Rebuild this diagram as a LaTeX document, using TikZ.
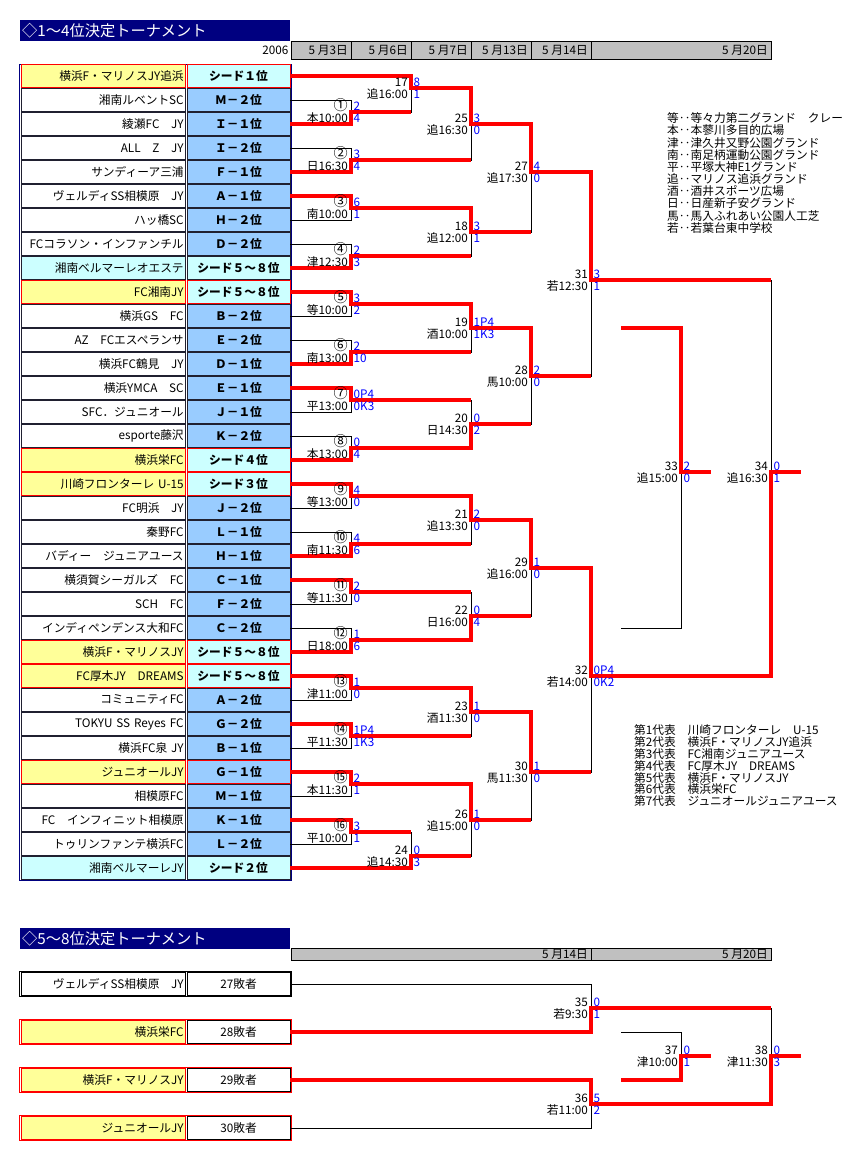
\documentclass[tikz,border=0pt]{standalone}
\usepackage{fontspec}
\setmainfont{Noto Sans CJK JP}
\usepackage{xcolor}
\usepackage{tikz}

\definecolor{navy}{HTML}{000080}
\definecolor{hdrgrey}{HTML}{C0C0C0}
\definecolor{cellyellow}{HTML}{FFFF99}
\definecolor{cellcyan}{HTML}{CCFFFF}
\definecolor{cellblue}{HTML}{99CCFF}
\definecolor{cellline}{HTML}{202030}
\definecolor{scoreblue}{HTML}{0000FF}

\newcommand{\circnum}[1]{{\fontsize{12}{12}\selectfont #1}}

\tikzset{
  namecell/.style={text width=4.82cm, align=right, inner xsep=0.06cm, inner ysep=0pt,
    minimum height=0.675cm, line width=0.7pt},
  rankcell/.style={minimum width=3.09cm, minimum height=0.675cm, inner sep=0pt,
    line width=0.7pt, font=\fontsize{10}{12}\selectfont\bfseries},
  nm grp/.style={namecell, fill=white, draw=cellline},
  nm seed/.style={namecell, fill=cellyellow, draw=red},
  nm yel/.style={namecell, fill=cellyellow, draw=red},
  nm cyn/.style={namecell, fill=cellcyan, draw=cellline},
  rk grp/.style={rankcell, fill=cellblue, draw=cellline},
  rk seed/.style={rankcell, fill=cellcyan, draw=red},
  rk yel/.style={rankcell, fill=cellblue, draw=red},
  rk cyn/.style={rankcell, fill=cellcyan, draw=cellline},
  lnm plain/.style={namecell, fill=white, draw=black},
  lnm red/.style={namecell, fill=cellyellow, draw=red},
  lval/.style={rankcell, font=\fontsize{10}{12}\selectfont, fill=white, draw=black},
  frame plain/.style={draw=black, line width=0.7pt},
  frame red/.style={draw=red, line width=0.7pt},
}

\begin{document}
\begin{tikzpicture}[x=0.03cm, y=-0.03cm,
    every node/.style={font=\fontsize{10}{12}\selectfont},
    titletext/.style={anchor=west, text=white, inner sep=0pt, font=\fontsize{13}{14}\selectfont},
    datebox/.style={draw=black, fill=hdrgrey, line width=0.7pt},
    tableframe/.style={draw=navy, line width=0.8pt},
    loss/.style={draw=black, line width=0.8pt},
    win/.style={draw=red, line width=3.4pt},
    numlbl/.style={anchor=base east, inner sep=0pt},
    scorelbl/.style={anchor=base west, inner sep=0pt, text=scoreblue},
    legend/.style={anchor=north west, align=left, inner sep=0pt}]
    % Canvas
    \useasboundingbox (0,0) rectangle (859,1161);
    \fill[white] (0,0) rectangle (859,1161);

    % Title and dates (1-4)
    \fill[navy] (20,20) rectangle (290,40.7);
    \node[titletext] (title1) at (22,30.5) {◇1～4位決定トーナメント};
    \node[anchor=east, inner sep=0pt] (year) at (288.5,50.2) {2006};
    \foreach \a/\b/\d [count=\k] in {291/351/5 月3日, 351/411/5 月6日, 411/471/5 月7日,
        471/531/5 月13日, 531/591/5 月14日, 591/771/5 月20日} {
      \draw[datebox] (\a,41) rectangle (\b,59.3);
      \node[anchor=east, inner sep=0pt] (date\k) at (\b-3,50.2) {\d};
    }

    % Team table
    \draw[tableframe] (19.5,64.3) rectangle (291.5,880.5);
    \foreach \i/\team/\rank/\kind in {
        1/横浜F・マリノスJY追浜/シード１位/seed, 2/湘南ルベントSC/Ｍ－２位/grp,
        3/綾瀬FC　JY/Ｉ－１位/grp, 4/ALL　Z　JY/Ｉ－２位/grp,
        5/サンディーア三浦/Ｆ－１位/grp, 6/ヴェルディSS相模原　JY/Ａ－１位/grp,
        7/ハッ橋SC/Ｈ－２位/grp, 8/FCコラソン・インファンチル/Ｄ－２位/grp,
        9/{湘南ベルマーレオエステ\hspace*{1em}}/シード５～８位/cyn, 10/FC湘南JY/シード５～８位/seed,
        11/横浜GS　FC/Ｂ－２位/grp, 12/AZ　FCエスペランサ/Ｅ－２位/grp,
        13/横浜FC鶴見　JY/Ｄ－１位/grp, 14/横浜YMCA　SC/Ｅ－１位/grp,
        15/SFC．ジュニオール/Ｊ－１位/grp, 16/esporte藤沢/Ｋ－２位/grp,
        17/横浜栄FC/シード４位/seed, 18/{川崎フロンターレ U-15\hspace*{1em}}/シード３位/seed,
        19/FC明浜　JY/Ｊ－２位/grp, 20/秦野FC/Ｌ－１位/grp,
        21/バディー　ジュニアユース/Ｈ－１位/grp, 22/横須賀シーガルズ　FC/Ｃ－１位/grp,
        23/SCH　FC/Ｆ－２位/grp, 24/インディペンデンス大和FC/Ｃ－２位/grp,
        25/横浜F・マリノスJY/シード５～８位/seed, 26/FC厚木JY　DREAMS/シード５～８位/seed,
        27/コミュニティFC/Ａ－２位/grp, 28/TOKYU SS Reyes FC/Ｇ－２位/grp,
        29/横浜FC泉 JY/Ｂ－１位/grp, 30/ジュニオールJY/Ｇ－１位/yel,
        31/相模原FC/Ｍ－１位/grp, 32/FC　インフィニット相模原/Ｋ－１位/grp,
        33/トゥリンファンテ横浜FC/Ｌ－２位/grp, 34/{湘南ベルマーレJY\hspace*{1em}}/シード２位/cyn} {
      \node[nm \kind] (n\i) at (103.35,{76+24*(\i-1)}) {\team};
      \node[rk \kind] (r\i) at (238.5,{76+24*(\i-1)}) {\rank};
    }

    % Match points
    \foreach \m/\x/\y in {m1/351/112, m2/351/160, m3/351/208, m4/351/256, m5/351/304,
        m6/351/352, m7/351/400, m8/351/448, m9/351/496, m10/351/544, m11/351/592,
        m12/351/640, m13/351/688, m14/351/736, m15/351/784, m16/351/832,
        m17/411/88, m24/411/856, m25/471/124, m18/471/232, m19/471/328, m20/471/424,
        m21/471/520, m22/471/616, m23/471/712, m26/471/820, m27/531/172, m28/531/376,
        m29/531/568, m30/531/772, m31/591/280, m32/591/676, m33/681/472, m34/771/472,
        m35/591/1008, m36/591/1104, m37/681/1056, m38/771/1056}
      \coordinate (\m) at (\x,\y);
    \coordinate (q1) at (621,328);
    \coordinate (q2) at (621,628);
    \coordinate (q3) at (621,1032);
    \coordinate (q4) at (621,1080);

    % Title and dates (5-8)
    \fill[navy] (20,928.3) rectangle (290,949);
    \node[titletext] (title2) at (22,938.6) {◇5～8位決定トーナメント};
    \draw[datebox] (291,948.5) rectangle (591,960);
    \draw[datebox] (591,948.5) rectangle (771,960);
    \node[anchor=east, inner sep=0pt] (date7) at (588,954.5) {5 月14日};
    \node[anchor=east, inner sep=0pt] (date8) at (768,954.5) {5 月20日};

    % Placing table
    \foreach \j/\team/\val/\kind/\yy in {1/ヴェルディSS相模原　JY/27敗者/plain/984,
        2/横浜栄FC/28敗者/red/1032, 3/横浜F・マリノスJY/29敗者/red/1080,
        4/ジュニオールJY/30敗者/red/1128} {
      \draw[frame \kind] (19.5,\yy-12.8) rectangle (291.5,\yy+12.8);
      \node[lnm \kind] (ln\j) at (103.35,\yy) {\team};
      \node[lval] (lv\j) at (238.5,\yy) {\val};
    }

    % Bracket lines
    \foreach \m/\a/\b in {m1/r2.east/r3.east, m2/r4.east/r5.east, m3/r6.east/r7.east,
        m4/r8.east/r9.east, m5/r10.east/r11.east, m6/r12.east/r13.east,
        m7/r14.east/r15.east, m8/r16.east/r17.east, m9/r18.east/r19.east,
        m10/r20.east/r21.east, m11/r22.east/r23.east, m12/r24.east/r25.east,
        m13/r26.east/r27.east, m14/r28.east/r29.east, m15/r30.east/r31.east,
        m16/r32.east/r33.east, m17/r1.east/m1, m24/m16/r34.east,
        m25/m17/m2, m18/m3/m4, m19/m5/m6, m20/m7/m8, m21/m9/m10, m22/m11/m12,
        m23/m13/m14, m26/m15/m24, m27/m25/m18, m28/m19/m20, m29/m21/m22, m30/m23/m26,
        m31/m27/m28, m32/m29/m30, m33/q1/q2, m34/m31/m32,
        m35/lv1.east/lv2.east, m36/lv3.east/lv4.east, m37/q3/q4, m38/m35/m36}
      \draw[loss] (\a) -| (\m) (\b) -| (\m);

    % Winning paths
    \draw[win] (r1.east) -| (m17) -| (m25) -| (m27) -| (m31) -- (m31 -| m34);
    \draw[win] (r3.east) -| (m1) -- (m1 -| m17);
    \draw[win] (r5.east) -| (m2) -- (m2 -| m25);
    \draw[win] (r6.east) -| (m3) -| (m18) -- (m18 -| m27);
    \draw[win] (r9.east) -| (m4) -- (m4 -| m18);
    \draw[win] (r10.east) -| (m5) -| (m19) -| (m28) -- (m28 -| m31);
    \draw[win] (r13.east) -| (m6) -- (m6 -| m19);
    \draw[win] (r14.east) -| (m7) -- (m7 -| m20);
    \draw[win] (r17.east) -| (m8) -| (m20) -- (m20 -| m28);
    \draw[win] (r18.east) -| (m9) -| (m21) -| (m29) -| (m32) -| (m34) -- ++(30,0);
    \draw[win] (r21.east) -| (m10) -- (m10 -| m21);
    \draw[win] (r22.east) -| (m11) -- (m11 -| m22);
    \draw[win] (r25.east) -| (m12) -| (m22) -- (m22 -| m29);
    \draw[win] (r26.east) -| (m13) -| (m23) -| (m30) -- (m30 -| m32);
    \draw[win] (r28.east) -| (m14) -- (m14 -| m23);
    \draw[win] (r30.east) -| (m15) -| (m26) -- (m26 -| m30);
    \draw[win] (r32.east) -| (m16) -- (m16 -| m24);
    \draw[win] (r34.east) -| (m24) -- (m24 -| m26);
    \draw[win] (q1) -| (m33) -- ++(30,0);
    \draw[win] (lv2.east) -| (m35) -- (m35 -| m38);
    \draw[win] (lv3.east) -| (m36) -| (m38) -- ++(30,0);
    \draw[win] (q4) -| (m37) -- ++(30,0);

    % Match labels
    \foreach \m/\no/\ven/\sa/\sb in {m1/\circnum{①}/本10:00/2/4, m2/\circnum{②}/日16:30/3/4,
        m3/\circnum{③}/南10:00/6/1, m4/\circnum{④}/津12:30/2/3, m5/\circnum{⑤}/等10:00/3/2,
        m6/\circnum{⑥}/南13:00/2/10, m7/\circnum{⑦}/平13:00/0P4/0K3, m8/\circnum{⑧}/本13:00/0/4,
        m9/\circnum{⑨}/等13:00/4/0, m10/\circnum{⑩}/南11:30/4/6, m11/\circnum{⑪}/等11:30/2/0,
        m12/\circnum{⑫}/日18:00/1/6, m13/\circnum{⑬}/津11:00/1/0, m14/\circnum{⑭}/平11:30/1P4/1K3,
        m15/\circnum{⑮}/本11:30/2/1, m16/\circnum{⑯}/平10:00/3/1, m17/17/追16:00/8/1, m24/24/追14:30/0/3,
        m25/25/追16:30/3/0, m18/18/追12:00/3/1, m19/19/酒10:00/1P4/1K3, m20/20/日14:30/0/2,
        m21/21/追13:30/2/0, m22/22/日16:00/0/4, m23/23/酒11:30/1/0, m26/26/追15:00/1/0,
        m27/27/追17:30/4/0, m28/28/馬10:00/2/0, m29/29/追16:00/1/0, m30/30/馬11:30/1/0,
        m31/31/若12:30/3/1, m32/32/若14:00/0P4/0K2, m33/33/追15:00/2/0, m34/34/追16:30/0/1,
        m35/35/若9:30/0/1, m36/36/若11:00/5/2, m37/37/津10:00/0/1, m38/38/津11:30/0/3} {
      \path (\m) ++(-3,-1.3) node[numlbl] (\m-no) {\no} ++(0,11.6) node[numlbl] (\m-ven) {\ven};
      \path (\m) ++(2.5,-1.3) node[scorelbl] (\m-sa) {\sa} ++(0,11.6) node[scorelbl] (\m-sb) {\sb};
    }

    % Venue key and representatives
    \node[legend, font=\fontsize{10}{10.4}\selectfont] (venues) at (667,112.5)
      {等‥等々力第二グランド　クレー\\本‥本蓼川多目的広場\\津‥津久井又野公園グランド\\
       南‥南足柄運動公園グランド\\平‥平塚大神E1グランド\\追‥マリノス追浜グランド\\
       酒‥酒井スポーツ広場\\日‥日産新子安グランド\\馬‥馬入ふれあい公園人工芝\\若‥若葉台東中学校};
    \node[legend, font=\fontsize{10}{10.15}\selectfont] (reps) at (634,724.3)
      {第1代表　川崎フロンターレ　U-15\\第2代表　横浜F・マリノスJY追浜\\
       第3代表　FC湘南ジュニアユース\\第4代表　FC厚木JY　DREAMS\\
       第5代表　横浜F・マリノスJY\\第6代表　横浜栄FC\\第7代表　ジュニオールジュニアユース};
\end{tikzpicture}
\end{document}
